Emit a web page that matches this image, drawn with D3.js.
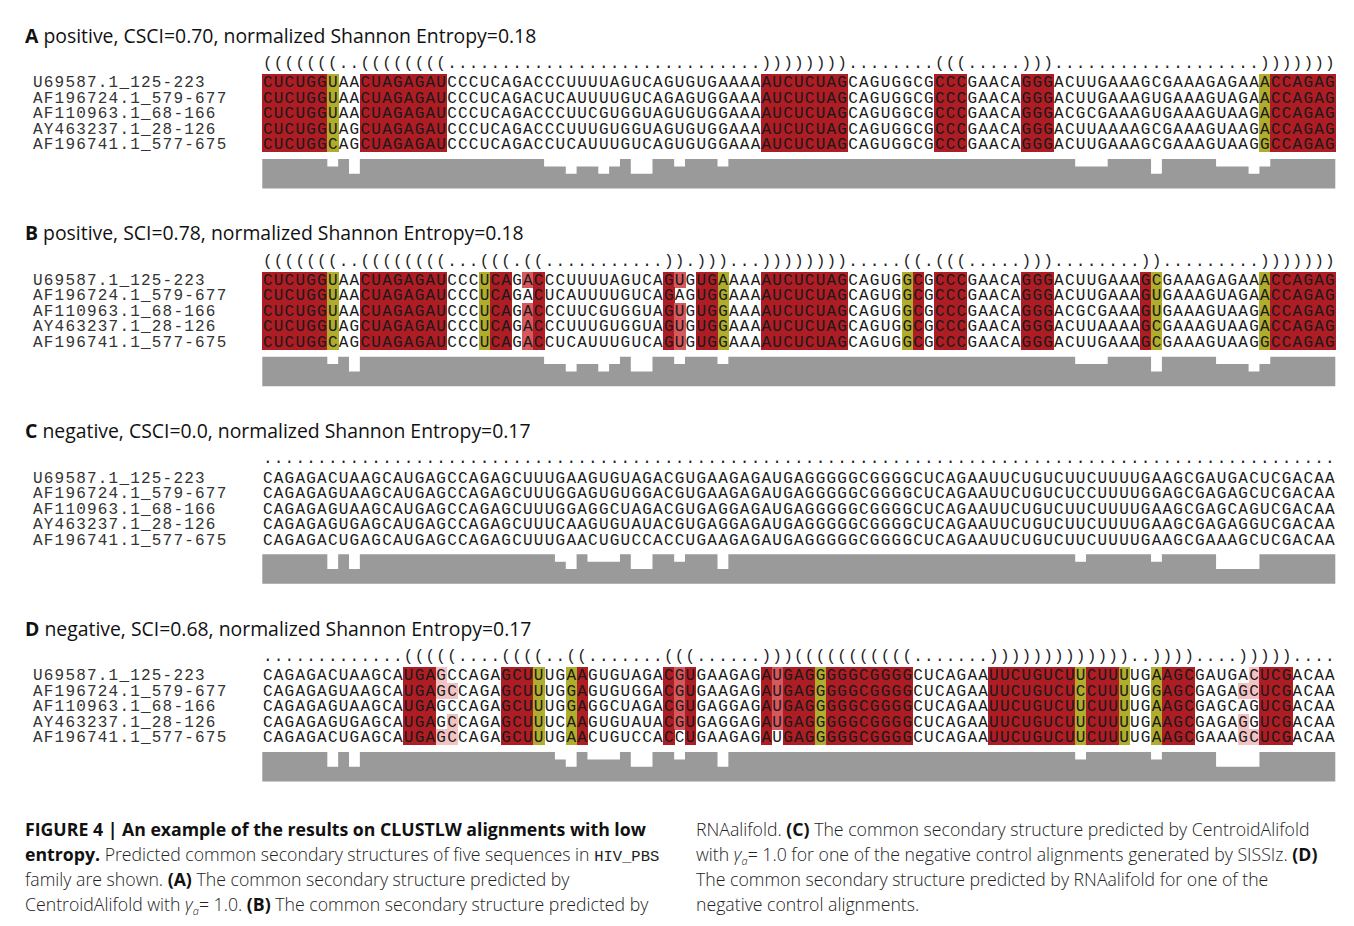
<!DOCTYPE html>
<html>
<head>
<meta charset="utf-8">
<script src="https://cdn.jsdelivr.net/npm/d3@7"></script>
<style>
  body { margin: 0; background: #ffffff; }
  svg { display: block; }
</style>
</head>
<body>
<svg id="fig" width="1354" height="926"></svg>
<script>
// ---- alignment data -------------------------------------------------------
const seqNames = [
  "U69587.1_125-223",
  "AF196724.1_579-677",
  "AF110963.1_68-166",
  "AY463237.1_28-126",
  "AF196741.1_577-675"
];

// CLUSTALW alignment of the HIV_PBS family members (positive examples A, B)
const alnPositive = [
  "CUCUGGUAACUAGAGAUCCCUCAGACCCUUUUAGUCAGUGUGAAAAAUCUCUAGCAGUGGCGCCCGAACAGGGACUUGAAAGCGAAAGAGAAACCAGAG",
  "CUCUGGUAACUAGAGAUCCCUCAGACUCAUUUUGUCAGAGUGGAAAAUCUCUAGCAGUGGCGCCCGAACAGGGACUUGAAAGUGAAAGUAGAACCAGAG",
  "CUCUGGUAACUAGAGAUCCCUCAGACCCUUCGUGGUAGUGUGGAAAAUCUCUAGCAGUGGCGCCCGAACAGGGACGCGAAAGUGAAAGUAAGACCAGAG",
  "CUCUGGUAGCUAGAGAUCCCUCAGACCCUUUGUGGUAGUGUGGAAAAUCUCUAGCAGUGGCGCCCGAACAGGGACUUAAAAGCGAAAGUAAGACCAGAG",
  "CUCUGGCAGCUAGAGAUCCCUCAGACCUCAUUUGUCAGUGUGGAAAAUCUCUAGCAGUGGCGCCCGAACAGGGACUUGAAAGCGAAAGUAAGGCCAGAG"
];

// SISSIz-generated negative control alignment (C, D)
const alnNegative = [
  "CAGAGACUAAGCAUGAGCCAGAGCUUUGAAGUGUAGACGUGAAGAGAUGAGGGGGCGGGGCUCAGAAUUCUGUCUUCUUUUGAAGCGAUGACUCGACAA",
  "CAGAGAGUAAGCAUGAGCCAGAGCUUUGGAGUGUGGACGUGAAGAGAUGAGGGGGCGGGGCUCAGAAUUCUGUCUCCUUUUGGAGCGAGAGCUCGACAA",
  "CAGAGAGUAAGCAUGAGCCAGAGCUUUGGAGGCUAGACGUGAGGAGAUGAGGGGGCGGGGCUCAGAAUUCUGUCUUCUUUUGAAGCGAGCAGUCGACAA",
  "CAGAGAGUGAGCAUGAGCCAGAGCUUUCAAGUGUAUACGUGAGGAGAUGAGGGGGCGGGGCUCAGAAUUCUGUCUUCUUUUGAAGCGAGAGGUCGACAA",
  "CAGAGACUGAGCAUGAGCCAGAGCUUUGAACUGUCCACCUGAAGAGAUGAGGGGGCGGGGCUCAGAAUUCUGUCUUCUUUUGAAGCGAAAGCUCGACAA"
];

// predicted consensus structures (dot-bracket, written in blocks of ten columns)
const structA = "(((((((..(" + "(((((((..." + ".........." + ".........." + "......))))" +
                "))))......" + "..(((....." + ")))......." + ".........." + "..)))))))";
const structB = "(((((((..(" + "(((((((..." + "(((.((...." + ".......))." + ")))...))))" +
                ")))).....(" + "(.(((....." + ")))......." + ".))......." + "..)))))))";
const structC = ".........." + ".........." + ".........." + ".........." + ".........." +
                ".........." + ".........." + ".........." + ".........." + ".........";
const structD = ".........." + "...(((((.." + "..((((..((" + ".......(((" + "......)))(" +
                "((((((((((" + ".......)))" + "))))))))))" + "..))))...." + ")))))....";

const panelLetters = ["A", "B", "C", "D"];
const panelTitles = [
  " positive, CSCI=0.70, normalized Shannon Entropy=0.18",
  " positive, SCI=0.78, normalized Shannon Entropy=0.18",
  " negative, CSCI=0.0, normalized Shannon Entropy=0.17",
  " negative, SCI=0.68, normalized Shannon Entropy=0.17"
];
const panelAlignments = [alnPositive, alnPositive, alnNegative, alnNegative];
const panelStructures = [structA, structB, structC, structD];

// ---- styling --------------------------------------------------------------
const MONO = "'Liberation Mono', 'Courier New', monospace";
const SANS = "'Open Sans', 'Noto Sans', 'Liberation Sans', sans-serif";
// pair colouring: hue = number of distinct pair types, shade = incompatible sequences
const pairPalette = [
  ["#ae1c24", "#d6585d", "#f3c3c4"],   // 1 type
  ["#b0ad2d", "#cdcb73", "#ebeac0"],   // 2 types
  ["#2c9a3a", "#78c282", "#c4e6c8"],   // 3 types
  ["#2aa6a6", "#79c9c9", "#c6eaea"],   // 4 types
  ["#2b5fb8", "#7a9ad3", "#c8d6ef"],   // 5 types
  ["#8a3bb0", "#b585cf", "#e1cdec"]    // 6 types
];
const barColor = "#9a9a9a";

// ---- helpers --------------------------------------------------------------
function pairTable(s) {
  const stack = [], p = new Array(s.length).fill(-1);
  for (let i = 0; i < s.length; i++) {
    if (s[i] === "(") stack.push(i);
    else if (s[i] === ")") { const j = stack.pop(); p[i] = j; p[j] = i; }
  }
  return p;
}
const validPairs = new Set(["AU", "UA", "GC", "CG", "GU", "UG"]);
function cellColours(seqs, struct) {
  const p = pairTable(struct);
  const out = seqs.map(() => new Array(struct.length).fill(null));
  for (let i = 0; i < struct.length; i++) {
    const j = p[i];
    if (j <= i) continue;
    const types = new Set();
    let bad = 0;
    seqs.forEach(s => {
      const bp = s[i] + s[j];
      if (validPairs.has(bp)) types.add(bp); else bad++;
    });
    if (types.size === 0) continue;
    const col = pairPalette[types.size - 1][Math.min(bad, 2)];
    seqs.forEach((s, k) => {
      if (validPairs.has(s[i] + s[j])) { out[k][i] = col; out[k][j] = col; }
    });
  }
  return out;
}
// number of sequences sharing the most frequent base in each column
function conservation(seqs) {
  return d3.range(seqs[0].length).map(i => {
    const counts = d3.rollup(seqs, v => v.length, s => s[i]);
    return d3.max(counts.values());
  });
}

// ---- scales ---------------------------------------------------------------
const nCols = alnPositive[0].length;
const x = d3.scaleBand().domain(d3.range(nCols)).range([262.3, 1335.3]);
const panelY = d3.scaleLinear().domain([0, 3]).range([0, 593]);
const rowY = d3.scaleBand().domain(d3.range(seqNames.length)).range([74.3, 151.7]);
const barY = d3.scaleLinear().domain([1, 5]).range([188.5, 159]);

const svg = d3.select("#fig");
svg.append("rect").attr("width", 1354).attr("height", 926).attr("fill", "#fff");

panelLetters.forEach((letter, pi) => {
  const g = svg.append("g").attr("transform", `translate(0,${panelY(pi)})`);
  const seqs = panelAlignments[pi];
  const struct = panelStructures[pi];

  // title
  const t = g.append("text").attr("x", 25).attr("y", 42.5)
    .attr("font-family", SANS).attr("font-size", 19.4).attr("fill", "#111");
  t.append("tspan").attr("font-weight", "bold").text(letter);
  t.append("tspan").text(panelTitles[pi]);

  // structure line
  g.append("g").selectAll("text").data(struct.split(""))
    .join("text")
    .attr("x", (d, i) => x(i) + x.bandwidth() / 2)
    .attr("y", 68)
    .attr("text-anchor", "middle")
    .attr("font-family", MONO).attr("font-size", 16).attr("fill", "#222")
    .text(d => d);

  // coloured base-pair cells
  const colours = cellColours(seqs, struct);
  const cells = [];
  colours.forEach((rowC, k) => rowC.forEach((c, i) => { if (c) cells.push({ k, i, c }); }));
  g.append("g").attr("shape-rendering", "crispEdges")
    .selectAll("rect").data(cells).join("rect")
    .attr("x", d => x(d.i)).attr("y", d => rowY(d.k))
    .attr("width", x.bandwidth() + 0.6).attr("height", rowY.bandwidth() + 0.6)
    .attr("fill", d => d.c);

  // sequence names
  g.append("g").selectAll("text").data(seqNames).join("text")
    .attr("x", 33).attr("y", (d, k) => rowY(k) + rowY.bandwidth() / 2 + 5.3)
    .attr("font-family", MONO).attr("font-size", 16).attr("letter-spacing", 1.2)
    .attr("fill", "#333").text(d => d);

  // sequence letters
  seqs.forEach((s, k) => {
    g.append("g").selectAll("text").data(s.split("")).join("text")
      .attr("x", (d, i) => x(i) + x.bandwidth() / 2)
      .attr("y", rowY(k) + rowY.bandwidth() / 2 + 5.3)
      .attr("text-anchor", "middle")
      .attr("font-family", MONO).attr("font-size", 16).attr("fill", "#1a1a1a")
      .text(d => d);
  });

  // conservation profile as one stepped area
  const cons = conservation(seqs);
  const steps = cons.map((v, i) => ({ x: x(i), v }));
  steps.push({ x: x(nCols - 1) + x.bandwidth(), v: cons[nCols - 1] });
  const area = d3.area().curve(d3.curveStepAfter)
    .x(d => d.x).y0(barY(1)).y1(d => barY(d.v));
  g.append("path").datum(steps).attr("d", area).attr("fill", barColor);
});

// ---- caption --------------------------------------------------------------
const captionLeft = [
  [["b", "FIGURE 4 | An example of the results on CLUSTLW alignments with low"]],
  [["b", "entropy."], ["n", " Predicted common secondary structures of five sequences in "], ["m", "HIV_PBS"]],
  [["n", "family are shown. "], ["b", "(A)"], ["n", " The common secondary structure predicted by"]],
  [["n", "CentroidAlifold with "], ["g", ""], ["n", "= 1.0. "], ["b", "(B)"], ["n", " The common secondary structure predicted by"]]
];
const captionRight = [
  [["n", "RNAalifold. "], ["b", "(C)"], ["n", " The common secondary structure predicted by CentroidAlifold"]],
  [["n", "with "], ["g", ""], ["n", "= 1.0 for one of the negative control alignments generated by SISSIz. "], ["b", "(D)"]],
  [["n", "The common secondary structure predicted by RNAalifold for one of the"]],
  [["n", "negative control alignments."]]
];
const captionLineY = d3.scaleLinear().domain([0, 3]).range([835.5, 910.5]);

function drawCaption(lines, x0) {
  lines.forEach((runs, li) => {
    const t = svg.append("text").attr("x", x0).attr("y", captionLineY(li))
      .attr("font-family", SANS).attr("font-size", 17.7).attr("font-weight", 300).attr("fill", "#222");
    let shift = 0;   // pending baseline restore after a subscript
    runs.forEach(([kind, str]) => {
      let ts;
      if (kind === "g") {
        t.append("tspan").attr("font-style", "italic").text("\u03b3");
        t.append("tspan").attr("font-style", "italic").attr("font-size", 11).attr("dy", 4).text("a");
        shift = -4;
        return;
      }
      if (kind === "b") ts = t.append("tspan").attr("font-weight", "bold").attr("fill", "#111").text(str);
      else if (kind === "m") ts = t.append("tspan").attr("font-family", MONO).attr("font-size", 15.5).text(str);
      else ts = t.append("tspan").text(str);
      if (shift) { ts.attr("dy", shift); shift = 0; }
    });
  });
}
drawCaption(captionLeft, 25);
drawCaption(captionRight, 696);
</script>
</body>
</html>
